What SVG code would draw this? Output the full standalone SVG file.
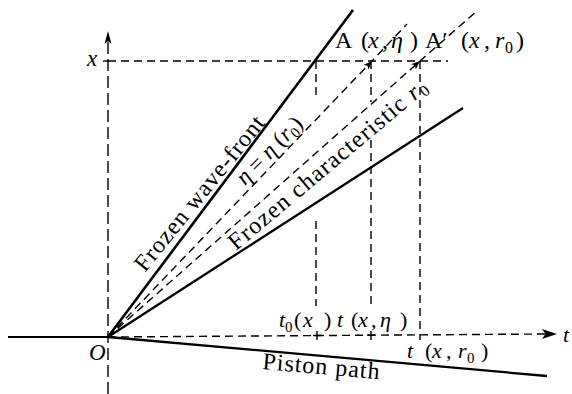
<svg xmlns="http://www.w3.org/2000/svg" width="572" height="394" viewBox="0 0 572 394">
<style>
.s{fill:none;stroke:#000;stroke-linecap:butt}
.d{fill:none;stroke:#000;stroke-width:1.4;stroke-dasharray:8 5}
.t{font-family:"Liberation Serif","DejaVu Serif","Times New Roman",serif;font-size:22px;fill:#000}
.i{font-style:italic}
</style>
<defs>
<marker id="ah" viewBox="0 0 10 8" refX="10" refY="4" markerWidth="9" markerHeight="7" markerUnits="userSpaceOnUse" orient="auto">
<path d="M0,0 L10,4 L0,8 L2.5,4 z" fill="#000" stroke="none"/>
</marker>
</defs>
<rect width="572" height="394" fill="#fff"/>
<g id="connectors">
<path class="s" stroke-width="2.2" d="M8,337 H108"/>
<path class="d" stroke-width="1.5" style="stroke-dasharray:12 5" d="M108,394 V42"/>
<polygon points="108,31 104.5,44 108,41 111.5,44" fill="#000"/>
<path class="s" stroke-width="1.4" d="M103,61 H108"/>
<path class="d" d="M108,61 H448"/>
<path class="d" d="M108,337 L545,334"/>
<polygon points="557,334 542,329 545.5,334 542,339" fill="#000"/>
<path class="s" stroke-width="2.6" d="M108,337 L353,10"/>
<path class="s" stroke-width="2.3" d="M108,337 L463,108"/>
<path class="s" stroke-width="2.3" d="M108,337 L547,376"/>
<path class="d" d="M108,337 L372,61 L407,24" marker-mid="url(#ah)"/>
<path class="d" d="M108,337 L420,61 L478,10" marker-mid="url(#ah)"/>
<path class="d" d="M316,61 V97 M316,221 V306"/>
<path class="s" stroke-width="1.4" d="M317,331 V340 M313,335.5 H321"/>
<path class="d" d="M371,61 V102 M371,140 V306"/>
<path class="s" stroke-width="1.4" d="M371,331 V340 M367,335 H375"/>
<path class="d" d="M420,61 V340"/>
</g>
<g id="labels">
<text id="lbl-x" class="t i" style="font-size:23px" x="87" y="66">x</text>
<text id="lbl-O" class="t i" style="font-size:23px" x="89" y="360">O</text>
<text id="lbl-t" class="t i" x="563" y="342">t</text>
<g id="lbl-A">
<text class="t" style="font-size:24px" y="48"><tspan x="335">A</tspan><tspan x="361">(</tspan><tspan x="368" class="i">x</tspan><tspan x="382">,</tspan><tspan x="391" class="i">η</tspan><tspan x="410">)</tspan></text>
</g>
<g id="lbl-A2">
<text class="t" style="font-size:24px" y="48"><tspan x="425">A′</tspan><tspan x="461">(</tspan><tspan x="469" class="i">x</tspan><tspan x="484">,</tspan><tspan x="495" class="i">r</tspan><tspan x="505" dy="5" style="font-size:16px">0</tspan><tspan x="516" dy="-5">)</tspan></text>
</g>
<text id="lbl-t0" class="t" y="327"><tspan x="279" class="i">t</tspan><tspan x="285" dy="5" style="font-size:15px">0</tspan><tspan x="294" dy="-5">(</tspan><tspan x="303" class="i">x</tspan><tspan x="324">)</tspan></text>
<text id="lbl-txeta" class="t" y="327"><tspan x="337" class="i">t</tspan><tspan x="351">(</tspan><tspan x="358" class="i">x</tspan><tspan x="371">,</tspan><tspan x="380" class="i">η</tspan><tspan x="400">)</tspan></text>
<text id="lbl-txr0" class="t" y="358"><tspan x="407" class="i">t</tspan><tspan x="425">(</tspan><tspan x="432" class="i">x</tspan><tspan x="446">,</tspan><tspan x="458" class="i">r</tspan><tspan x="467" dy="5" style="font-size:15px">0</tspan><tspan x="481" dy="-5">)</tspan></text>
<text id="lbl-piston" class="t" style="font-size:24px;letter-spacing:1px" transform="translate(262,369) rotate(5)">Piston path</text>
<text id="lbl-wave" class="t" style="font-size:24px;letter-spacing:0.9px" transform="translate(145,273) rotate(-51)">Frozen wave-front</text>
<text id="lbl-eta" class="t" style="font-size:23px" transform="translate(245,186) rotate(-46)"><tspan class="i">η</tspan> = <tspan class="i">η</tspan> (<tspan class="i">r</tspan><tspan dy="4" style="font-size:15px">0</tspan><tspan dy="-4">)</tspan></text>
<text id="lbl-char" class="t" style="font-size:24px;letter-spacing:1.2px" transform="translate(236,251) rotate(-40)">Frozen characteristic <tspan class="i">r</tspan><tspan dy="4" style="font-size:16px">0</tspan></text>
</g>
</svg>
